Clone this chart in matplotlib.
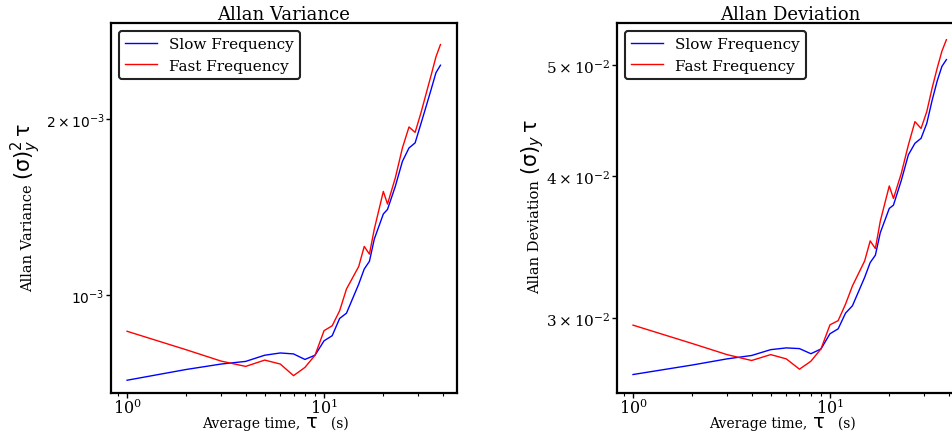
import matplotlib
matplotlib.use("Agg")
import matplotlib.pyplot as plt
from matplotlib.ticker import NullLocator, NullFormatter

plt.rcParams['font.family'] = 'DejaVu Serif'
plt.rcParams['mathtext.fontset'] = 'dejavuserif'

# averaging times (s)
taus = [1, 2, 3, 4, 5, 6, 7, 8, 9, 10, 11, 12, 13, 15, 16, 17, 18, 20, 21,
        23, 25, 27, 29, 31, 33, 35, 37, 39]

# Allan variance (x 1e-3)
avar_slow = [0.714, 0.745, 0.761, 0.769, 0.788, 0.795, 0.792, 0.775, 0.788,
             0.834, 0.851, 0.911, 0.930, 1.043, 1.107, 1.141, 1.246, 1.375,
             1.400, 1.533, 1.692, 1.784, 1.820, 1.960, 2.103, 2.249, 2.400,
             2.472]
avar_fast = [0.866, 0.805, 0.770, 0.754, 0.773, 0.761, 0.727, 0.751, 0.788,
             0.868, 0.885, 0.939, 1.023, 1.118, 1.210, 1.174, 1.296, 1.503,
             1.430, 1.585, 1.784, 1.938, 1.897, 2.045, 2.211, 2.379, 2.555,
             2.682]

# Allan deviation (x 1e-2)
adev_slow = [2.677, 2.729, 2.763, 2.782, 2.815, 2.825, 2.821, 2.792, 2.819,
             2.907, 2.936, 3.031, 3.076, 3.258, 3.357, 3.407, 3.565, 3.745,
             3.770, 3.961, 4.173, 4.272, 4.315, 4.447, 4.659, 4.844, 4.990,
             5.059]
adev_fast = [2.958, 2.850, 2.787, 2.754, 2.787, 2.763, 2.706, 2.750, 2.819,
             2.960, 2.985, 3.087, 3.202, 3.368, 3.507, 3.453, 3.649, 3.919,
             3.821, 4.018, 4.257, 4.463, 4.402, 4.554, 4.776, 4.971, 5.146,
             5.267]

avar_slow = [v * 1e-3 for v in avar_slow]
avar_fast = [v * 1e-3 for v in avar_fast]
adev_slow = [v * 1e-2 for v in adev_slow]
adev_fast = [v * 1e-2 for v in adev_fast]


def style_axes(ax, label_x):
    ax.set_xscale('log')
    ax.set_yscale('log')
    ax.set_xlim(0.829, 47.3)
    for s in ax.spines.values():
        s.set_linewidth(1.6)
    ax.tick_params(which='both', direction='out', top=False, right=False,
                   pad=1)
    ax.tick_params(which='major', length=3.5, width=1)
    ax.tick_params(which='minor', length=2.2, width=0.8)
    ax.tick_params(axis='x', labelsize=11.5, pad=0)
    ax.set_xticks([1, 10], [r'$10^{0}$', r'$10^{1}$'])
    ax.yaxis.set_minor_locator(NullLocator())
    ax.yaxis.set_minor_formatter(NullFormatter())
    leg = ax.legend(loc='upper left', fontsize=11, fancybox=True,
                    framealpha=1, edgecolor='#222222', handlelength=2.1,
                    handletextpad=0.8, borderaxespad=0.5)
    leg.get_frame().set_linewidth(1.5)
    # x label: serif text with a larger sans tau dropped into the gap
    ax.set_xlabel('Average time,       (s)', fontsize=10, labelpad=-1)
    ax.xaxis.label.set_x(label_x)
    ax.annotate(r'$\mathrm{\tau}$', xy=(1, 0), xycoords=ax.xaxis.label,
                xytext=(-26.6, 2.3), textcoords='offset points',
                ha='center', va='baseline', fontsize=14,
                math_fontfamily='dejavusans')


def y_label(ax, text, math, xfrac, yfrac):
    ax.set_ylabel(text, fontsize=10.5)
    ax.yaxis.set_label_coords(xfrac, yfrac)
    ax.annotate(math, xy=(0.5, 1), xycoords=ax.yaxis.label,
                xytext=(-1.5, 3.5), textcoords='offset points',
                ha='center', va='bottom', rotation=90, fontsize=15,
                math_fontfamily='dejavusans')


fig = plt.figure(figsize=(9.53, 4.35), dpi=100)
ax1 = fig.add_axes([0.1165, 0.0943, 0.363, 0.85])
ax2 = fig.add_axes([0.6474, 0.0943, 0.363, 0.85])

ax1.plot(taus, avar_slow, color='b', lw=1, label='Slow Frequency')
ax1.plot(taus, avar_fast, color='r', lw=1, label='Fast Frequency')
style_axes(ax1, 0.4754)
ax1.set_ylim(6.79e-4, 2.917e-3)
ax1.set_yticks([1e-3, 2e-3], [r'$10^{-3}$', r'$2\times10^{-3}$'])
for t in ax1.get_yticklabels():
    t.set_math_fontfamily('dejavusans')
    t.set_fontsize(10)
ax1.set_title('Allan Variance', fontsize=13, pad=2)
y_label(ax1, 'Allan Variance', r'$(\mathrm{\sigma})^2_y\,\mathrm{\tau}$',
        -0.2197, 0.4206)

ax2.plot(taus, adev_slow, color='b', lw=1, label='Slow Frequency')
ax2.plot(taus, adev_fast, color='r', lw=1, label='Fast Frequency')
style_axes(ax2, 0.477)
ax2.set_ylim(0.02579, 0.05445)
ax2.set_yticks([3e-2, 4e-2, 5e-2],
               [r'$3\times10^{-2}$', r'$4\times10^{-2}$', r'$5\times10^{-2}$'])
for t in ax2.get_yticklabels():
    t.set_fontsize(11)
ax2.set_title('Allan Deviation', fontsize=13, pad=2)
y_label(ax2, 'Allan Deviation', r'$(\mathrm{\sigma})_y\,\mathrm{\tau}$',
        -0.2168, 0.4255)

fig.savefig('out.png', dpi=100)
